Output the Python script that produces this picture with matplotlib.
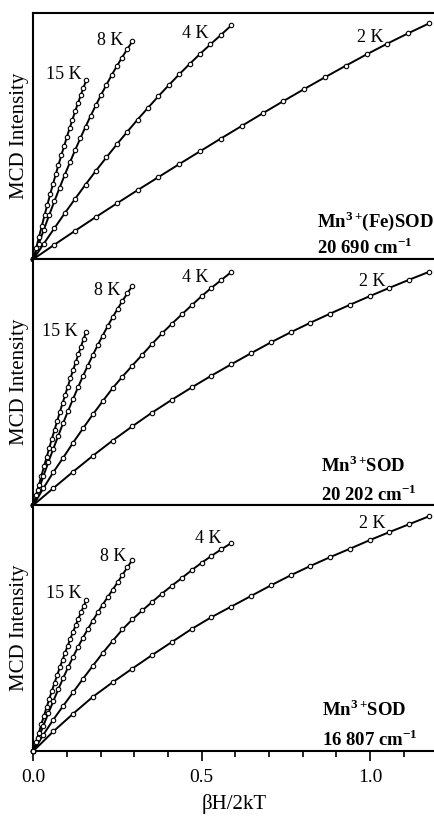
"""
MCD saturation magnetisation curves (VTVH) for three Mn3+ SOD samples.
Three stacked panels sharing the betaH/2kT axis.
"""

import matplotlib
matplotlib.use("Agg")
import matplotlib.pyplot as plt
from matplotlib.ticker import MultipleLocator, NullLocator, FormatStrFormatter

plt.rcParams['font.family'] = ['Liberation Serif', 'DejaVu Serif']
plt.rcParams['mathtext.fontset'] = 'custom'
plt.rcParams['mathtext.rm'] = 'Liberation Serif'
plt.rcParams['mathtext.bf'] = 'Liberation Serif:bold'

BETA_OVER_2K = 0.3358   # K/T, so x = 0.3358 * H / T
X_MAX = 1.193

TEMPS = [15, 8, 4, 2]
TEMP_LABELS = ['15 K', '8 K', '4 K', '2 K']

# applied field (T) at each data point
FIELD_19 = [0.0, 0.368, 0.737, 1.105, 1.474, 1.842, 2.211, 2.579, 2.947, 3.316,
            3.684, 4.053, 4.421, 4.789, 5.158, 5.526, 5.895, 6.263, 6.632, 7.0]
FIELD_20 = [0.0, 0.35, 0.70, 1.05, 1.40, 1.75, 2.10, 2.45, 2.80, 3.15, 3.50,
            3.85, 4.20, 4.55, 4.90, 5.25, 5.60, 5.95, 6.30, 6.65, 7.0]

# --- panel 1: Mn3+(Fe)SOD, 20 690 cm-1 (normalised intensity) ---------------
P1_15K = [0, .046, .091, .135, .179, .221, .263, .304, .344, .383,
          .421, .458, .495, .531, .566, .600, .633, .665, .697, .727]
P1_8K = [0, .061, .120, .178, .234, .289, .342, .393, .443, .491,
         .538, .583, .626, .668, .708, .747, .784, .819, .853, .885]
P1_4K = [0, .063, .125, .186, .245, .303, .359, .413, .466, .517,
         .567, .615, .662, .707, .751, .793, .834, .873, .911, .950]
P1_2K = [0, .058, .115, .171, .226, .280, .333, .386, .438, .490,
         .541, .592, .642, .691, .739, .786, .832, .876, .918, .958]

# --- panel 2: Mn3+SOD, 20 202 cm-1 ------------------------------------------
P2_15K = [0, .040, .080, .119, .157, .195, .233, .270, .306, .342, .378,
          .413, .447, .481, .515, .548, .580, .612, .644, .675, .705]
P2_8K = [0, .059, .117, .174, .228, .281, .333, .383, .431, .478, .524,
         .567, .610, .650, .689, .727, .763, .797, .830, .861, .891]
P2_4K = [0, .068, .133, .192, .253, .311, .368, .422, .475, .522, .567,
         .611, .655, .698, .737, .775, .812, .849, .883, .915, .947]
P2_2K = [0, .068, .135, .200, .262, .320, .376, .428, .478, .526, .572,
         .617, .661, .702, .741, .778, .814, .849, .883, .916, .948]

# --- panel 3: Mn3+SOD, 16 807 cm-1 ------------------------------------------
P3_15K = [0, .037, .073, .109, .144, .178, .212, .245, .277, .309, .340,
          .370, .400, .428, .457, .484, .511, .537, .563, .588, .612]
P3_8K = [0, .052, .103, .153, .202, .250, .296, .340, .382, .422, .460,
         .496, .530, .563, .595, .625, .655, .685, .716, .747, .777]
P3_4K = [0, .066, .127, .183, .238, .293, .346, .398, .447, .494, .535,
         .571, .606, .640, .672, .703, .735, .765, .793, .820, .845]
P3_2K = [0, .079, .151, .220, .279, .335, .390, .443, .496, .544, .587,
         .630, .673, .714, .752, .788, .822, .857, .890, .922, .954]

PANEL_TITLES = [r'Mn$^{\mathbf{3+}}\!$(Fe)SOD', r'Mn$^{\mathbf{3+}}\!$SOD',
                r'Mn$^{\mathbf{3+}}\!$SOD']
PANEL_ENERGIES = [r'20 690 cm$^{\mathbf{-1}}$', r'20 202 cm$^{\mathbf{-1}}$',
                  r'16 807 cm$^{\mathbf{-1}}$']

PANELS = [
    (FIELD_19, [P1_15K, P1_8K, P1_4K, P1_2K]),
    (FIELD_20, [P2_15K, P2_8K, P2_4K, P2_2K]),
    (FIELD_20, [P3_15K, P3_8K, P3_4K, P3_2K]),
]

# temperature label anchors (right / baseline), data coords
LABEL_POS = [
    [(0.144, 0.732), (0.267, 0.872), (0.519, 0.900), (1.040, 0.884)],
    [(0.130, 0.686), (0.257, 0.854), (0.520, 0.905), (1.046, 0.891)],
    [(0.143, 0.623), (0.277, 0.773), (0.560, 0.845), (1.046, 0.906)],
]
NAME_POS = [(0.842, 0.132, 0.019), (0.853, 0.133, 0.016), (0.856, 0.140, 0.018)]


def draw_panel(ax, field, curves, labels_at, name, energy, name_at):
    for T, y in zip(TEMPS, curves):
        x = [BETA_OVER_2K * h / T for h in field]
        ax.plot(x, y, '-', color='black', linewidth=1.4, clip_on=False, zorder=3)
        ax.plot(x, y, 'o', color='black', markersize=3.2, mfc='white',
                mew=0.8, clip_on=False, zorder=4)

    for lab, (lx, ly) in zip(TEMP_LABELS, labels_at):
        ax.text(lx, ly, lab, ha='right', va='baseline', fontsize=13)

    nx, ny1, ny2 = name_at
    ax.text(nx, ny1, name, ha='left', va='baseline', fontsize=13.5, fontweight='bold')
    ax.text(nx, ny2, energy, ha='left', va='baseline', fontsize=13.5, fontweight='bold')

    ax.set_xlim(0, X_MAX)
    ax.set_ylim(0, 1.0)
    ax.yaxis.set_major_locator(NullLocator())
    ax.set_ylabel('MCD Intensity', fontsize=15, labelpad=3)
    ax.spines['right'].set_visible(False)
    for s in ('left', 'top', 'bottom'):
        ax.spines[s].set_linewidth(1.5)


fig, axes = plt.subplots(3, 1, figsize=(4.35, 8.18), dpi=100, sharex=True)
fig.subplots_adjust(left=0.077, right=1.0, top=0.984, bottom=0.082, hspace=0)

for ax, (field, curves), labels_at, name, energy, name_at in zip(
        axes, PANELS, LABEL_POS, PANEL_TITLES, PANEL_ENERGIES, NAME_POS):
    draw_panel(ax, field, curves, labels_at, name, energy, name_at)

for ax in axes[:-1]:
    ax.tick_params(axis='x', which='both', bottom=False, labelbottom=False)

bottom = axes[-1]
bottom.xaxis.set_major_locator(MultipleLocator(0.5))
bottom.xaxis.set_minor_locator(MultipleLocator(0.1))
bottom.xaxis.set_major_formatter(FormatStrFormatter('%.1f'))
bottom.tick_params(axis='x', which='major', direction='out', length=7, width=1.2,
                   labelsize=14, pad=6)
bottom.tick_params(axis='x', which='minor', direction='out', length=4, width=1.2)
bottom.set_xlabel('βH/2kT', fontsize=15, labelpad=6)

fig.savefig('out.png', dpi=100)
